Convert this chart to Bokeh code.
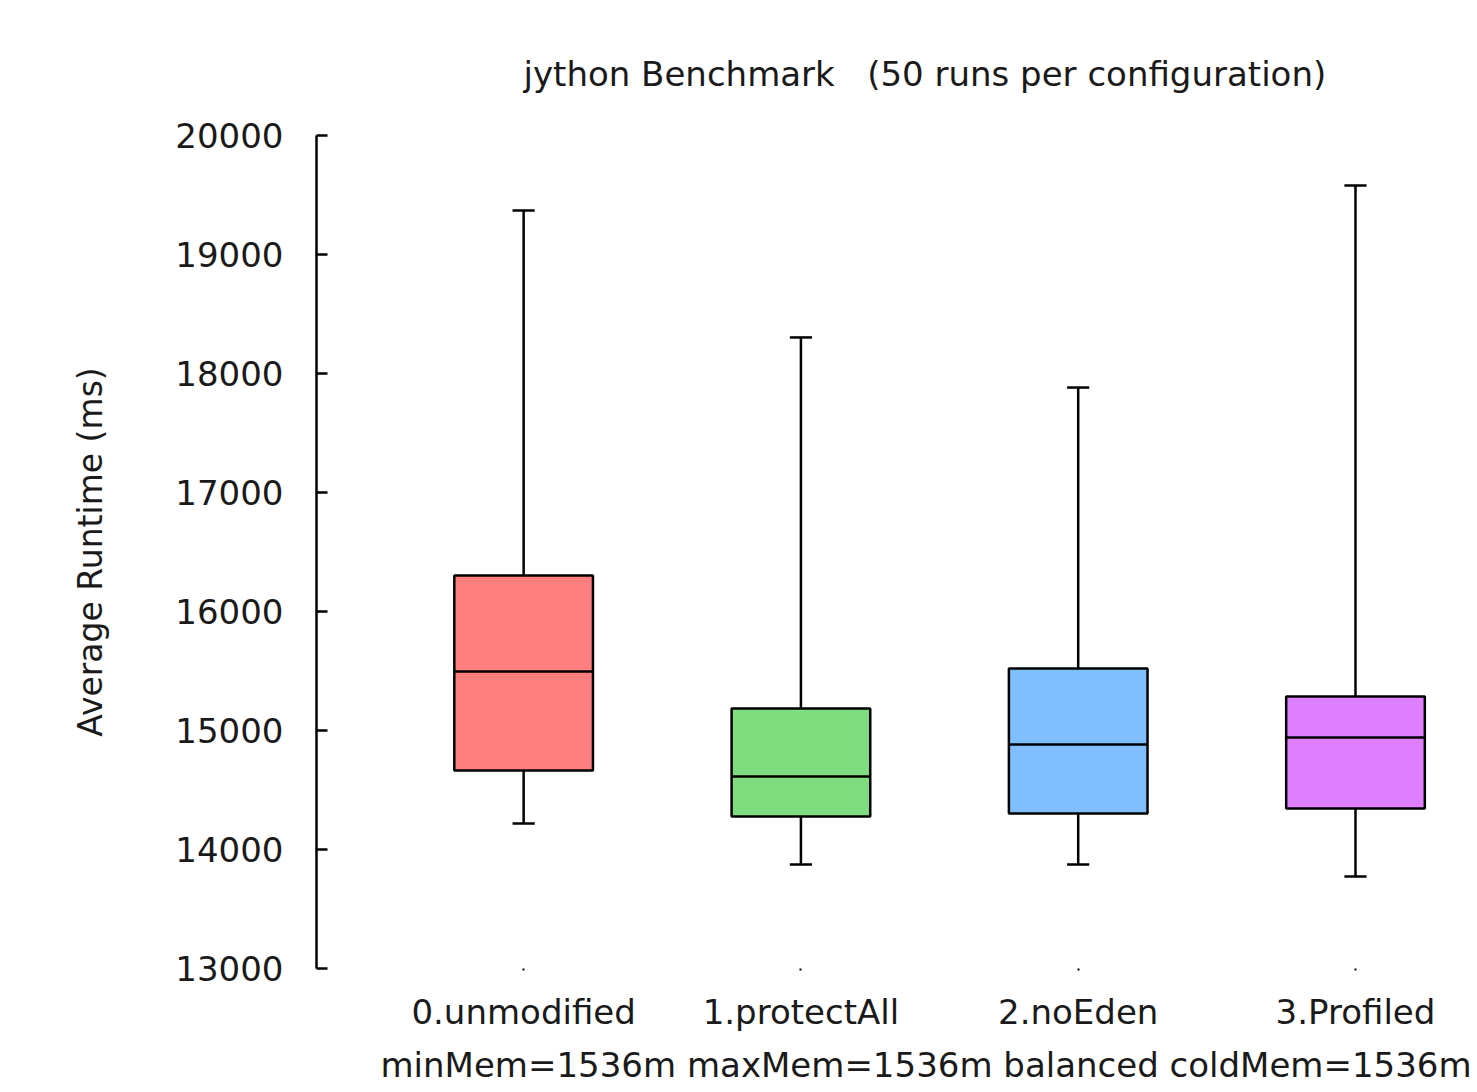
from bokeh.plotting import figure
from bokeh.models import Range1d, FixedTicker, Title
from bokeh.embed import file_html
from bokeh.resources import INLINE

# ---- data ----
configs = ["0.unmodified", "1.protectAll", "2.noEden", "3.Profiled"]
whisker_low = [14218, 13874, 13874, 13773]
q1 = [14664, 14277, 14303, 14345]
median = [15496, 14613, 14882, 14941]
q3 = [16303, 15185, 15521, 15286]
whisker_high = [19370, 18303, 17882, 19580]
colors = ["#ff7f7f", "#7fdd7f", "#7fbfff", "#dd7fff"]
y_ticks = [13000, 14000, 15000, 16000, 17000, 18000, 19000, 20000]
title_text = "jython Benchmark\u00a0\u00a0\u00a0(50 runs per configuration)"
x_label = "minMem=1536m maxMem=1536m balanced coldMem=1536m"
y_label = "Average Runtime (ms)"

FONT = "DejaVu Sans"
TXT = "#1a1a1a"
LW = 2.5

xs = list(range(len(configs)))
box_w = 0.5
cap_w = 0.08

p = figure(width=1477, height=1092, output_backend="svg", toolbar_location=None,
           x_range=Range1d(-0.747, 3.44), y_range=Range1d(13000, 20000),
           min_border_left=316, min_border_right=0, min_border_top=135,
           min_border_bottom=124)
p.outline_line_color = None
p.xgrid.visible = False
p.ygrid.visible = False
p.background_fill_color = "white"
p.border_fill_color = "white"

# whisker stems
p.segment(x0=xs, y0=q3, x1=xs, y1=whisker_high, line_color="black", line_width=LW)
p.segment(x0=xs, y0=q1, x1=xs, y1=whisker_low, line_color="black", line_width=LW)
# caps
p.segment(x0=[x - cap_w / 2 for x in xs], y0=whisker_high,
          x1=[x + cap_w / 2 for x in xs], y1=whisker_high, line_color="black", line_width=LW)
p.segment(x0=[x - cap_w / 2 for x in xs], y0=whisker_low,
          x1=[x + cap_w / 2 for x in xs], y1=whisker_low, line_color="black", line_width=LW)
# boxes
p.vbar(x=xs, bottom=q1, top=q3, width=box_w, fill_color=colors,
       line_color="black", line_width=LW)
# medians
p.segment(x0=[x - box_w / 2 for x in xs], y0=median,
          x1=[x + box_w / 2 for x in xs], y1=median, line_color="black", line_width=LW)

# title
p.title.text = title_text
p.title.align = "left"
p.title.offset = 207
p.title.standoff = 83
p.title.text_font = FONT
p.title.text_font_size = "34px"
p.title.text_font_style = "normal"
p.title.text_color = TXT

# y axis
ya = p.yaxis[0]
ya.ticker = FixedTicker(ticks=y_ticks)
ya.minor_tick_line_color = None
ya.major_tick_in = 11
ya.major_tick_out = 0
ya.major_tick_line_width = LW
ya.major_tick_line_color = "black"
ya.axis_line_width = LW
ya.axis_line_color = "black"
ya.major_label_standoff = 33
ya.major_label_text_font = FONT
ya.major_label_text_font_size = "34px"
ya.major_label_text_color = TXT
ya.axis_label = y_label
ya.axis_label_text_font = FONT
ya.axis_label_text_font_size = "33px"
ya.axis_label_text_font_style = "normal"
ya.axis_label_text_color = TXT
ya.axis_label_standoff = 62

# x axis
xa = p.xaxis[0]
xa.ticker = FixedTicker(ticks=xs)
xa.major_label_overrides = {x: c for x, c in zip(xs, configs)}
xa.minor_tick_line_color = None
xa.axis_line_color = None
xa.major_tick_in = 0
xa.major_tick_out = 2
xa.major_tick_line_width = 2
xa.major_tick_line_color = "black"
xa.major_label_standoff = 21
xa.major_label_text_font = FONT
xa.major_label_text_font_size = "34px"
xa.major_label_text_color = TXT

xt = Title(text=x_label, align="left", offset=64, standoff=16,
           text_font=FONT, text_font_size="34px", text_font_style="normal",
           text_color=TXT)
p.add_layout(xt, "below")

open("out.html", "w").write(file_html(p, INLINE))
